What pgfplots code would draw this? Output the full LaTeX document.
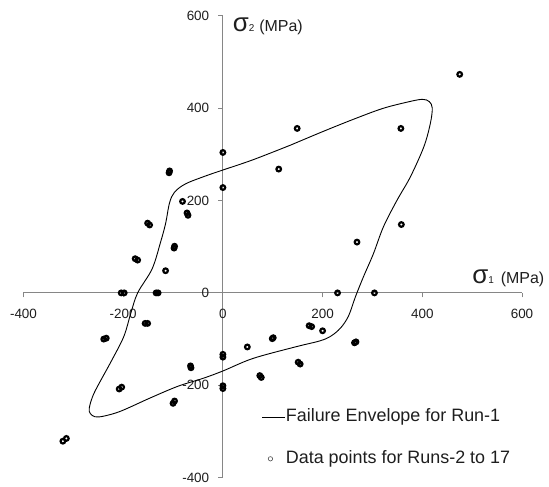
\documentclass[border=0pt]{standalone}
\usepackage{fontspec}
\setmainfont{Liberation Sans}
\usepackage{pgfplots}
\pgfplotsset{compat=1.18}
\usetikzlibrary{calc}
\definecolor{axgray}{RGB}{134,134,134}
\definecolor{tickcol}{RGB}{30,30,30}

% failure envelope, Run-1
\pgfplotstableread{
x y
136 320
200 349
260 375
320 399
370 413
400 419
414 414
420 400
416 366
403 316
376 251
349 200
322 143
302 85
282 35
266 -8
252 -50
236 -76
216 -94
194 -104
145 -117
60 -142
0 -169
-40 -185
-90 -202
-145 -227
-205 -256
-240 -267
-257 -268
-266 -261
-268 -249
-258 -216
-225 -150
-199 -95
-185 -45
-171 0
-142 52
-125 110
-115 150
-107 195
-97 218
-75 236
-35 253
0 266
60 288
136 320
}\envelope

% data points, Runs 2 to 17
\pgfplotstableread{
x y
475 473
149 356
357 356
0 304
112 268
0 228
358 148
269 110
230 0
304 0
0 -133
0 -139
0 -201
0 -207
49 -117
99 -99
101 -97
74 -179
77 -183
173 -71
178 -73
200 -82
151 -150
155 -154
264 -108
267 -106
-204 0
-198 0
-134 0
-130 0
-156 -66
-151 -66
-239 -100
-234 -98
-65 -158
-64 -162
-208 -208
-203 -204
-100 -239
-97 -234
-321 -321
-314 -315
-108 260
-107 264
-81 198
-72 173
-70 168
-151 151
-147 147
-98 97
-97 101
-176 74
-171 71
-115 48
}\datapts

\begin{document}
\begin{tikzpicture}
\begin{axis}[
  name=ax,
  scale only axis, width=498.5bp, height=462bp,
  xmin=-400, xmax=600, ymin=-400, ymax=600,
  axis lines=middle,
  axis line style={-, draw=axgray, line width=0.9bp},
  every inner x axis line/.append style={-},
  every inner y axis line/.append style={-},
  hide obscured x ticks=false, hide obscured y ticks=false,
  xtick={-400,-200,0,200,400,600}, xticklabels={-400,-200,0,200,400,600},
  ytick={-400,-200,0,200,400,600}, yticklabels={-400,-200,0,200,400,600},
  tick align=outside, major tick length=4.5bp,
  tick style={draw=axgray, line width=0.9bp},
  tick label style={font=\fontsize{13.5}{13.5}\selectfont, text=tickcol, inner sep=0pt},
  xticklabel style={anchor=north, yshift=-12bp},
  yticklabel style={anchor=east, xshift=-9bp},
  xlabel={{\fontsize{26}{26}\selectfont σ}{\fontsize{10}{10}\selectfont 1}\hspace{7bp}{\fontsize{16}{16}\selectfont (MPa)}},
  ylabel={{\fontsize{26}{26}\selectfont σ}{\fontsize{10}{10}\selectfont 2}\hspace{5bp}{\fontsize{16}{16}\selectfont (MPa)}},
  xlabel style={at={(axis description cs:0.9,0.421)}, anchor=base west, inner sep=0pt, text=tickcol},
  ylabel style={at={(axis description cs:0.4195,0.966)}, anchor=base west, inner sep=0pt, rotate=0, text=tickcol},
  clip=false,
  legend cell align=left,
  legend style={draw=none, fill=none, at={(axis description cs:0.478,0.150)}, anchor=north west,
    inner sep=0pt, row sep=24.7bp, column sep=0pt, font=\fontsize{18}{18}\selectfont,
    nodes={inner sep=0pt, text height=13bp, text depth=4bp, text=tickcol}},
]
\addplot[black, line width=0.9bp, smooth, tension=0.55,
  legend image code/.code={\draw[black, line width=0.9bp] (0bp,0bp) -- (23bp,0bp);}]
  table[x=x, y=y] {\envelope};
\addlegendentry{Failure Envelope for Run-1}
\addplot[only marks, black, mark=o, mark size=2.3bp,
  mark options={line width=2.2bp, draw=black, solid},
  legend image code/.code={\draw[black!70, line width=0.6bp] (8bp,0bp) circle (2.2bp);}]
  table[x=x, y=y] {\datapts};
\addlegendentry{Data points for Runs-2 to 17}
\end{axis}
\pgfresetboundingbox
\path[use as bounding box] ($(ax.south west)+(-23.5bp,-9.3bp)$) rectangle ($(ax.north east)+(27bp,15.7bp)$);
\end{tikzpicture}
\end{document}
